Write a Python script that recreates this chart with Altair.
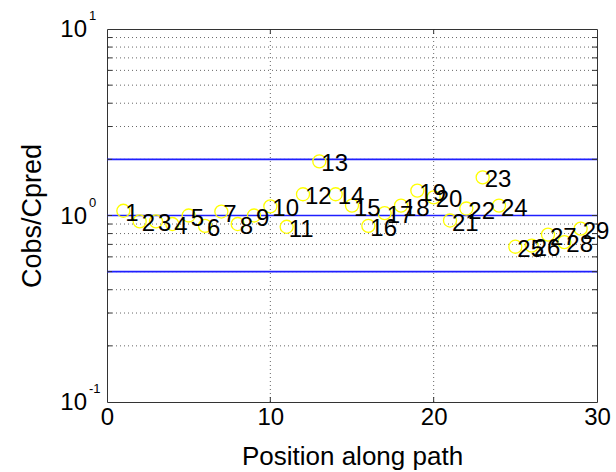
import altair as alt
import pandas as pd

# Observed / predicted concentration ratio at each position along the path
positions = list(range(1, 30))
ratios = [1.06, 0.93, 0.93, 0.90, 1.00, 0.88, 1.05, 0.90, 1.00, 1.12,
          0.87, 1.30, 1.95, 1.30, 1.13, 0.88, 1.03, 1.13, 1.36, 1.25,
          0.94, 1.09, 1.60, 1.13, 0.68, 0.69, 0.79, 0.72, 0.85]

# Reference bands: factor-of-two envelope around a perfect prediction
band_levels = [0.5, 1.0, 2.0]

# Log-scale gridlines (major + minor) and vertical gridlines
grid_y = [0.2, 0.3, 0.4, 0.5, 0.6, 0.7, 0.8, 0.9, 1.0,
          2, 3, 4, 5, 6, 7, 8, 9]
grid_x = [10, 20]
x_ticks = [0, 10, 20, 30]
y_major = [0.1, 1.0, 10.0]
y_exponents = ["-1", "0", "1"]

FONT = "Liberation Sans"
W, H = 490, 373

pts = pd.DataFrame({"pos": positions, "ratio": ratios,
                    "label": [str(p) for p in positions]})
bands = pd.DataFrame({"y": band_levels})
gy = pd.DataFrame({"y": grid_y})
gx = pd.DataFrame({"x": grid_x})
ylab = pd.DataFrame({"y": y_major, "exp": y_exponents})
yticks = pd.DataFrame({"y": grid_y})

xscale = alt.Scale(domain=[0, 30], nice=False, zero=False)
yscale = alt.Scale(type="log", domain=[0.1, 10], nice=False)

x_axis = alt.Axis(values=x_ticks, grid=False, ticks=False, domain=False,
                  labelFont=FONT, labelFontSize=24, labelColor="black",
                  labelPadding=3, labelFlush=False,
                  title="Position along path", titleFont=FONT,
                  titleFontSize=26, titleFontWeight="normal",
                  titleColor="black", titlePadding=14)
y_axis = alt.Axis(labels=False, grid=False, ticks=False, domain=False,
                  title="Cobs/Cpred", titleFont=FONT, titleFontSize=27,
                  titleFontWeight="normal", titleColor="black",
                  titlePadding=61)

base_x = alt.X("pos:Q", scale=xscale, axis=x_axis)
base_y = alt.Y("ratio:Q", scale=yscale, axis=y_axis)

hgrid = alt.Chart(gy).mark_rule(color="black", strokeWidth=1,
                                strokeDash=[1, 3], opacity=0.6).encode(
    y=alt.Y("y:Q", scale=yscale, axis=y_axis))
vgrid = alt.Chart(gx).mark_rule(color="black", strokeWidth=1,
                                strokeDash=[1, 3], opacity=0.6).encode(
    x=alt.X("x:Q", scale=xscale, axis=x_axis))
band_rules = alt.Chart(bands).mark_rule(color="#1f1fff", strokeWidth=1.6).encode(
    y=alt.Y("y:Q", scale=yscale, axis=y_axis))

# Inward tick marks on all four sides
lt = alt.Chart(yticks).mark_rule(color="#333", strokeWidth=1).encode(
    y=alt.Y("y:Q", scale=yscale, axis=y_axis), x=alt.value(0), x2=alt.value(5))
rt = alt.Chart(yticks).mark_rule(color="#333", strokeWidth=1).encode(
    y=alt.Y("y:Q", scale=yscale, axis=y_axis), x=alt.value(W - 5), x2=alt.value(W))
bt = alt.Chart(gx).mark_rule(color="#333", strokeWidth=1).encode(
    x=alt.X("x:Q", scale=xscale, axis=x_axis), y=alt.value(H - 5), y2=alt.value(H))
tt = alt.Chart(gx).mark_rule(color="#333", strokeWidth=1).encode(
    x=alt.X("x:Q", scale=xscale, axis=x_axis), y=alt.value(0), y2=alt.value(5))

circles = alt.Chart(pts).mark_point(shape="circle", filled=False,
                                    color="#ffff00", size=170,
                                    strokeWidth=1.3, opacity=1).encode(
    x=base_x, y=base_y)
labels = alt.Chart(pts).mark_text(align="left", baseline="middle", dx=2, dy=3,
                                  font=FONT, fontSize=24, color="black").encode(
    x=base_x, y=base_y, text="label:N")

# Power-of-ten tick labels on the log axis
ylab_base = alt.Chart(ylab).mark_text(align="right", baseline="middle", dy=1,
                                      font=FONT, fontSize=24, color="black").encode(
    y=alt.Y("y:Q", scale=yscale, axis=y_axis), x=alt.value(-20), text=alt.value("10"))
ylab_exp = alt.Chart(ylab).mark_text(align="left", baseline="middle", dy=-13,
                                     font=FONT, fontSize=13, color="black").encode(
    y=alt.Y("y:Q", scale=yscale, axis=y_axis), x=alt.value(-18), text="exp:N")

chart = alt.layer(
    hgrid, vgrid, band_rules, lt, rt, bt, tt, circles, labels, ylab_base, ylab_exp
).properties(
    width=W, height=H,
    autosize=alt.AutoSizeParams(type="none"),
    padding={"left": 107, "top": 29, "right": 19, "bottom": 70},
    background="white",
).configure_view(stroke="#333", strokeWidth=1)

chart.save("out.html", embed_options={"renderer": "svg", "actions": False})
